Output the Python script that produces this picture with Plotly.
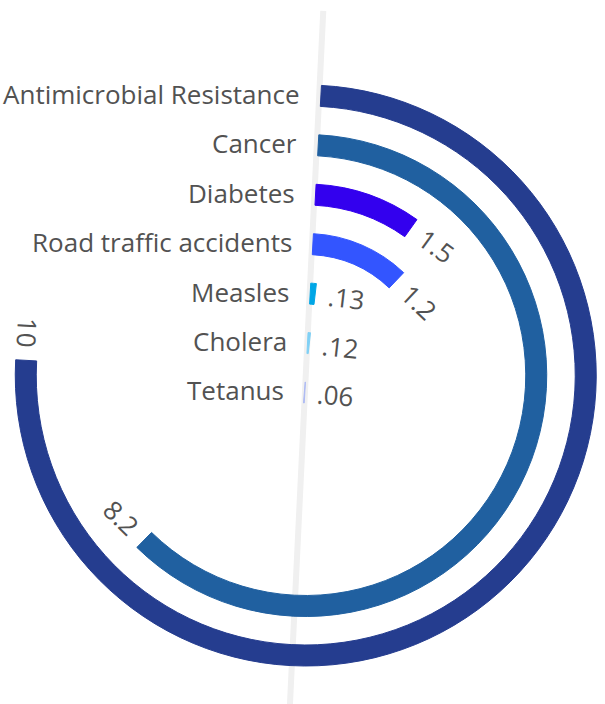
import math
import plotly.graph_objects as go

# ---------------- data ----------------
categories = ["Antimicrobial Resistance", "Cancer", "Diabetes",
              "Road traffic accidents", "Measles", "Cholera", "Tetanus"]
arc_values = [10, 8.2, 1.2, 1.5, 0.13, 0.12, 0.06]          # angular extent of each drawn arc
value_labels = ["10", "8.2", "1.5", "1.2", ".13", ".12", ".06"]  # text printed at arc ends

# ---------------- style / layout ----------------
colors = ["#253d8f", "#2060a0", "#3300ee", "#3355ff", "#00a6e6", "#7fd0f5", "#aebbf4"]
W, H = 605, 704
CX, CY = 305.75, 375.5        # centre of the rings (px from top-left)
R_BOX = 298                   # half size of polar box (1 radial unit = 1 px)
OUTER_MID = 280
STEP = 49.5
THICK = 21
START = 3.1                   # degrees clockwise from 12 o'clock
AXIS_TILT = 2.75
SWEEP_MAX = 270               # largest value fills 3/4 of the circle
deg_per_unit = SWEEP_MAX / max(arc_values)
FONT = "Open Sans"
FS = 26
TEXT_COLOR = "#525252"
GAP = 13

thetas, rs, bases, widths = [], [], [], []
mids = []
for i, v in enumerate(arc_values):
    mid = OUTER_MID - STEP * i
    mids.append(mid)
    inner, outer = mid - THICK / 2, mid + THICK / 2
    ext = v * deg_per_unit
    th = ext / 2
    if outer <= 0:                 # negative radius -> drawn on the opposite side
        th += 180
        inner, outer = -outer, -inner
    thetas.append(th)
    bases.append(inner)
    rs.append(outer - inner)
    widths.append(ext)

fig = go.Figure()

# tilted light axis line (cartesian overlay in px units, origin at ring centre)
a = math.radians(AXIS_TILT)
L1, L2 = 365, 380
fig.add_trace(go.Scatter(
    x=[L1 * math.sin(a), -L2 * math.sin(a)],
    y=[L1 * math.cos(a), -L2 * math.cos(a)],
    mode="lines", line=dict(color="#f0f0f0", width=6),
    hoverinfo="skip", showlegend=False, xaxis="x", yaxis="y"))

fig.add_trace(go.Barpolar(
    theta=thetas, r=rs, base=bases, width=widths,
    marker=dict(color=colors, line=dict(color=colors, width=1)),
    text=categories, hoverinfo="text", showlegend=False))

# category labels
annotations = []
s0 = math.radians(START)
for i, cat in enumerate(categories):
    mid = mids[i]
    annotations.append(dict(
        x=mid * math.sin(s0) - 19, y=mid * math.cos(s0) + 2,
        xref="x", yref="y", text=cat, showarrow=False,
        xanchor="right", yanchor="middle",
        font=dict(family=FONT, size=FS, color=TEXT_COLOR)))

def text_w(s):
    return sum(0.266 if c == "." else 0.572 for c in s) * FS

for i, lab in enumerate(value_labels):
    mid = mids[i]
    te = START + arc_values[i] * deg_per_unit
    t = math.radians(te)
    ex, ey = mid * math.sin(t), mid * math.cos(t)
    tx, ty = math.cos(t), -math.sin(t)      # clockwise tangent (y up)
    d = GAP + text_w(lab) / 2
    ang = te - 180 if 180 < te < 360 else te
    annotations.append(dict(
        x=ex + d * tx, y=ey + d * ty, xref="x", yref="y",
        text=lab, showarrow=False, textangle=ang,
        xanchor="center", yanchor="middle",
        font=dict(family=FONT, size=FS, color=TEXT_COLOR)))

fig.update_layout(
    width=W, height=H,
    margin=dict(l=0, r=0, t=0, b=0),
    paper_bgcolor="white", plot_bgcolor="rgba(0,0,0,0)",
    showlegend=False,
    xaxis=dict(domain=[0, 1], range=[-CX, W - CX], visible=False, fixedrange=True),
    yaxis=dict(domain=[0, 1], range=[-(H - CY), CY], visible=False, fixedrange=True),
    polar=dict(
        domain=dict(x=[(CX - R_BOX) / W, (CX + R_BOX) / W],
                    y=[(H - CY - R_BOX) / H, (H - CY + R_BOX) / H]),
        bgcolor="rgba(0,0,0,0)",
        radialaxis=dict(range=[0, R_BOX], visible=False),
        angularaxis=dict(rotation=90 - START, direction="clockwise", visible=False),
    ),
    annotations=annotations,
)

fig.write_html("out.html",
               config={"displayModeBar": False},
               post_script="document.body.style.margin='0';document.body.style.overflow='hidden';")
